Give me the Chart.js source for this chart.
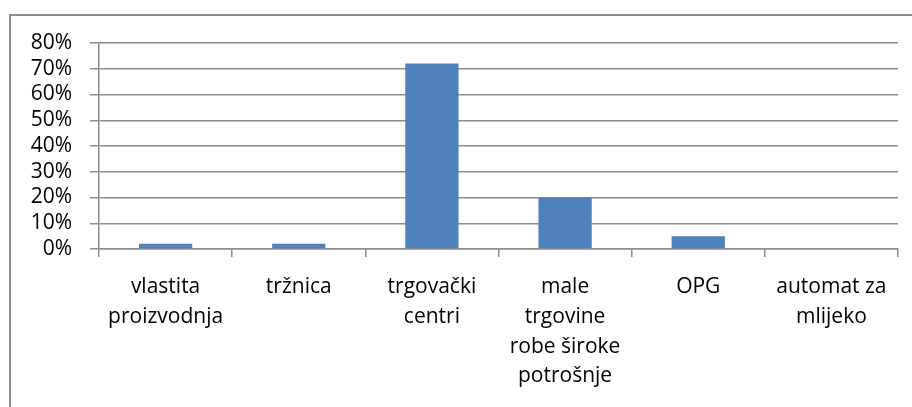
<!DOCTYPE html>
<html>
<head>
<meta charset="utf-8">
<script src="https://cdn.jsdelivr.net/npm/chart.js@4"></script>
<style>
html,body{margin:0;padding:0;background:#fff;}
#wrap{position:relative;width:912px;height:407px;}
</style>
</head>
<body>
<div id="wrap"><canvas id="c" width="912" height="407"></canvas></div>
<script>
const categories = [
  ['vlastita', 'proizvodnja'],
  ['tržnica'],
  ['trgovački', 'centri'],
  ['male', 'trgovine', 'robe široke', 'potrošnje'],
  ['OPG'],
  ['automat za', 'mlijeko']
];
const shares = [2, 2, 72, 20, 5, 0];
const yTickStep = 10;
const yMax = 80;

const gridColor = '#8c8c8c';
const fontFamily = "'Open Sans', sans-serif";

const framePlugin = {
  id: 'frame',
  beforeDraw(chart) {
    const ctx = chart.ctx;
    ctx.save();
    ctx.fillStyle = '#fff';
    ctx.fillRect(0, 0, chart.width, chart.height);
    ctx.strokeStyle = '#8c8c8c';
    ctx.lineWidth = 2;
    ctx.beginPath();
    ctx.moveTo(10, 407);
    ctx.lineTo(10, 15);
    ctx.lineTo(912, 15);
    ctx.stroke();
    ctx.restore();
  }
};

new Chart(document.getElementById('c'), {
  type: 'bar',
  data: {
    labels: categories,
    datasets: [{
      data: shares,
      backgroundColor: '#4F81BD',
      borderWidth: 0,
      barPercentage: 0.4,
      categoryPercentage: 1.0
    }]
  },
  options: {
    responsive: false,
    animation: false,
    layout: { padding: { left: 0, right: 14, top: 43, bottom: 0 } },
    plugins: { legend: { display: false }, tooltip: { enabled: false } },
    scales: {
      x: {
        offset: true,
        grid: {
          offset: true,
          drawOnChartArea: false,
          drawTicks: true,
          tickLength: 8,
          color: gridColor,
          lineWidth: 1.5
        },
        border: { display: true, color: gridColor, width: 1.5 },
        ticks: {
          autoSkip: false,
          maxRotation: 0,
          minRotation: 0,
          padding: 15,
          color: '#000',
          font: { family: fontFamily, size: 21, lineHeight: 1.42 }
        },
        afterFit(scale) { scale.height = 158; }
      },
      y: {
        min: 0,
        max: yMax,
        grid: {
          drawTicks: true,
          tickLength: 9,
          color: gridColor,
          lineWidth: 1.5
        },
        border: { display: true, color: gridColor, width: 1.5 },
        ticks: {
          stepSize: yTickStep,
          autoSkip: false,
          padding: 18,
          color: '#000',
          font: { family: fontFamily, size: 21 },
          callback: v => v + '%'
        },
        afterFit(scale) { scale.width = 99; }
      }
    }
  },
  plugins: [framePlugin]
});
</script>
</body>
</html>
